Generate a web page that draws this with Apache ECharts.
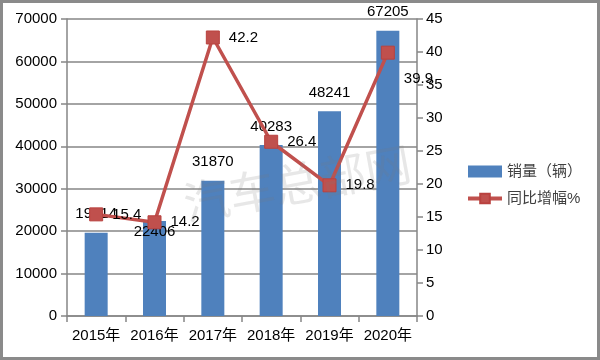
<!DOCTYPE html>
<html><head><meta charset="utf-8">
<script src="https://cdn.jsdelivr.net/npm/echarts@6/dist/echarts.min.js"></script>
<style>html,body{margin:0;padding:0;background:#fff}#c{width:600px;height:360px}</style>
</head><body><div id="c"></div>
<script>
const categories = ['2015年','2016年','2017年','2018年','2019年','2020年'];
const sales = [19614, 22406, 31870, 40283, 48241, 67205];
const growth = [15.4, 14.2, 42.2, 26.4, 19.8, 39.9];
const leftTicks = [0, 70000, 10000];
const rightTicks = [0, 45, 5];
const seriesNames = ['销量（辆）', '同比增幅%'];

const FONT = '"Liberation Sans","Noto Sans CJK SC",sans-serif';
const chart = echarts.init(document.getElementById('c'));
const barData = sales.map((v, i) => i === 1
  ? {value: v, label: {position: 'insideTop', distance: 3}}
  : v);
const lineData = growth.map((v, i) => i === 5
  ? {value: v, label: {offset: [0, 26]}}
  : v);
chart.setOption({
  animation: false,
  textStyle: {fontFamily: FONT},
  grid: {left: 67, right: 183, top: 19, bottom: 44},
  legend: {
    orient: 'vertical', left: 461, top: 159, itemGap: 12,
    itemWidth: 34, itemHeight: 12,
    textStyle: {fontSize: 15, color: '#404040', fontFamily: FONT},
    data: [{name: seriesNames[0], icon: 'rect'},
           {name: seriesNames[1], lineStyle: {width: 4, color: '#C0504D'}}]
  },
  xAxis: {
    type: 'category', data: categories, boundaryGap: true,
    axisLine: {lineStyle: {color: '#868686', width: 1.5}},
    axisTick: {show: true, length: 6, lineStyle: {color: '#868686', width: 1.5}},
    axisLabel: {color: '#000', fontSize: 15, margin: 12, interval: 0, fontFamily: FONT}
  },
  yAxis: [{
    type: 'value', min: leftTicks[0], max: leftTicks[1], interval: leftTicks[2],
    axisLine: {show: true, lineStyle: {color: '#868686', width: 1.5}},
    axisTick: {show: true, length: 6, lineStyle: {color: '#868686', width: 1.5}},
    splitLine: {lineStyle: {color: '#868686', width: 1.5}},
    axisLabel: {color: '#000', fontSize: 15, margin: 10, fontFamily: FONT, formatter: v => String(v)}
  }, {
    type: 'value', min: rightTicks[0], max: rightTicks[1], interval: rightTicks[2],
    axisLine: {show: true, lineStyle: {color: '#868686', width: 1.5}},
    axisTick: {show: true, length: 6, lineStyle: {color: '#868686', width: 1.5}},
    splitLine: {show: false},
    axisLabel: {color: '#000', fontSize: 15, margin: 9, fontFamily: FONT}
  }],
  series: [{
    name: seriesNames[0], type: 'bar', data: barData, barWidth: 23,
    itemStyle: {color: '#4F81BD'},
    label: {show: true, position: 'top', distance: 11, color: '#000', fontSize: 15, fontFamily: FONT}
  }, {
    name: seriesNames[1], type: 'line', yAxisIndex: 1, data: lineData,
    symbol: 'rect', symbolSize: 13,
    lineStyle: {color: '#C0504D', width: 3.5},
    itemStyle: {color: '#C0504D', borderColor: '#B9423F', borderWidth: 1},
    label: {show: true, position: 'right', distance: 9, color: '#000', fontSize: 15, fontFamily: FONT}
  }],
  graphic: [{
    type: 'text', left: 180, top: 140, rotation: 0.18, z: 100,
    style: {text: '汽车总部网', font: '46px "Noto Sans CJK SC"', fill: 'rgba(120,120,120,0.18)'}
  }, {
    type: 'rect', shape: {x: 1.5, y: 1.5, width: 597, height: 357}, z: 100,
    style: {fill: 'none', stroke: '#8a8a8a', lineWidth: 3}
  }]
});
</script></body></html>
